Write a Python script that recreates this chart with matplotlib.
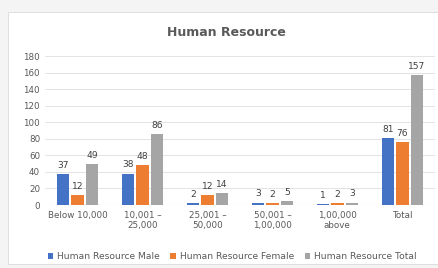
import numpy as np
import matplotlib.pyplot as plt
from matplotlib.patches import Rectangle

categories = ['Below 10,000', '10,001 –\n25,000', '25,001 –\n50,000',
              '50,001 –\n1,00,000', '1,00,000\nabove', 'Total']
male = [37, 38, 2, 3, 1, 81]
female = [12, 48, 12, 2, 2, 76]
total = [49, 86, 14, 5, 3, 157]
series = ['Human Resource Male', 'Human Resource Female', 'Human Resource Total']
colors = ['#4472C4', '#ED7D31', '#A5A5A5']

fig = plt.figure(figsize=(4.39, 2.68), dpi=100)
fig.patch.set_facecolor('#f4f4f4')
fig.patches.append(Rectangle((8 / 439, 4 / 268), 1, 252 / 268, transform=fig.transFigure,
                             facecolor='white', edgecolor='#d9d9d9', lw=0.6, zorder=-1))

ax = fig.add_axes([0.1025, 0.235, 0.888, 0.556])
ax.set_facecolor('none')
ax.set_zorder(2)

x = np.arange(len(categories))
w = 0.19
gap = 0.035
for i, (vals, name, c) in enumerate(zip([male, female, total], series, colors)):
    pos = x + (i - 1) * (w + gap)
    bars = ax.bar(pos, vals, width=w, color=c, label=name, zorder=3)
    for b, v in zip(bars, vals):
        ax.text(b.get_x() + b.get_width() / 2, v + 5, str(v), ha='center', va='bottom',
                fontsize=6.6, color='#404040')

ax.set_ylim(0, 180)
ax.set_yticks(range(0, 181, 20))
ax.set_xlim(-0.5, len(categories) - 0.5)
ax.set_xticks(x)
ax.set_xticklabels(categories)
ax.tick_params(axis='both', length=0, labelsize=6.3, labelcolor='#595959')
ax.tick_params(axis='x', pad=4)
ax.grid(axis='y', color='#e3e3e3', lw=0.7, zorder=0)
for s in ax.spines.values():
    s.set_visible(False)
ax.axhline(0, color='#d9d9d9', lw=0.8, zorder=2)

fig.text(0.515, 0.88, 'Human Resource', ha='center', va='center', fontsize=9,
         color='#595959', fontweight='bold', zorder=3)

ax.legend(loc='upper center', bbox_to_anchor=(0.48, -0.26), ncol=3, frameon=False,
          fontsize=6.6, handlelength=0.6, handleheight=0.6, columnspacing=1.2,
          handletextpad=0.4, labelcolor='#595959')

fig.savefig('out.png', dpi=100, facecolor=fig.get_facecolor())
